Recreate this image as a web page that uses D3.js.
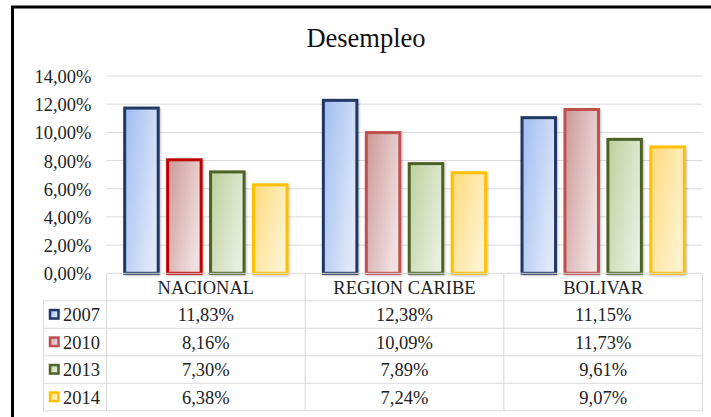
<!DOCTYPE html>
<html>
<head>
<meta charset="utf-8">
<script src="https://cdn.jsdelivr.net/npm/d3@7"></script>
<style>
  body { margin: 0; background: #fff; }
</style>
</head>
<body>
<svg width="711" height="417"></svg>
<script>
var categories = ["NACIONAL", "REGION CARIBE", "BOLIVAR"];
var years = ["2007", "2010", "2013", "2014"];
var v2007 = [11.83, 12.38, 11.15];
var v2010 = [8.16, 10.09, 11.73];
var v2013 = [7.30, 7.89, 9.61];
var v2014 = [6.38, 7.24, 9.07];
var yTicks = [0, 2, 4, 6, 8, 10, 12, 14];

var series = [v2007, v2010, v2013, v2014];

// colours per year: border, gradient start, gradient end
var strokes = ["#203864", "#c0504d", "#4f6228", "#ffc000"];
var gradA = ["#9fbdf2", "#cc9797", "#bcd09c", "#ffdb7c"];
var gradB = ["#dfe8f9", "#f1e0e0", "#e7efdf", "#fff2cf"];

var FONT = "'Liberation Serif'";
var mySVG = d3.select("svg").style("font-family", FONT);
var fmt = function(v){ return v.toFixed(2).replace(".", ",") + "%"; };

// frame (only top and left edges show in the picture)
mySVG.append("rect").attr("x", 12.5).attr("y", 7).attr("width", 740).attr("height", 440)
  .attr("fill", "none").attr("stroke", "#000").attr("stroke-width", 3);

var defs = mySVG.append("defs");
years.forEach(function(y, i){
  var g = defs.append("linearGradient").attr("id", "g" + y)
    .attr("x1", 0).attr("y1", 0).attr("x2", 1).attr("y2", 0.6);
  g.append("stop").attr("offset", "0%").attr("stop-color", gradA[i]);
  g.append("stop").attr("offset", "100%").attr("stop-color", gradB[i]);
});
var sh = defs.append("filter").attr("id", "shadow").attr("x", "-20%").attr("y", "-20%").attr("width", "150%").attr("height", "150%");
sh.append("feDropShadow").attr("dx", 1).attr("dy", 1).attr("stdDeviation", 1.2)
  .attr("flood-color", "#000").attr("flood-opacity", 0.25);

mySVG.append("text").attr("x", 366).attr("y", 47).attr("text-anchor", "middle")
  .attr("font-size", 26.5).attr("fill", "#111").style("font-family", FONT).text("Desempleo");

var plotL = 106.5, plotR = 702.5, plotT = 76, plotB = 273.3;

var y = d3.scaleLinear().domain([0, 14]).range([plotB, plotT]);
var x0 = d3.scaleBand().domain(categories).range([plotL, plotR]);
var x1 = d3.scaleBand().domain(years).range([16.7, 182]).paddingInner(0.15);

// gridlines
mySVG.append("g").selectAll("line").data(yTicks.slice(1)).enter().append("line")
  .attr("x1", plotL).attr("x2", plotR)
  .attr("y1", function(d){ return y(d); }).attr("y2", function(d){ return y(d); })
  .attr("stroke", "#d9d9d9").attr("stroke-width", 1);

// y labels via axis
var yAxis = mySVG.append("g").attr("transform", "translate(" + (plotL - 15) + ",0)")
  .call(d3.axisLeft(y).tickValues(yTicks).tickSize(0).tickPadding(0).tickFormat(function(d){ return fmt(d); }));
yAxis.select(".domain").remove();
yAxis.attr("font-family", null);
yAxis.selectAll("text").attr("font-size", 18.5).style("font-family", FONT)
  .attr("fill", "#222").attr("dy", "0.35em");

// bars
var groups = mySVG.append("g").selectAll("g").data(categories).enter().append("g")
  .attr("transform", function(c){ return "translate(" + x0(c) + ",0)"; });

groups.selectAll("rect").data(function(c, ci){
    return years.map(function(yr, si){ return {year: yr, si: si, ci: ci, v: series[si][ci]}; });
  }).enter().append("rect")
  .attr("x", function(d){ return x1(d.year) + 1.5; })
  .attr("y", function(d){ return y(d.v) + 1.5; })
  .attr("width", x1.bandwidth() - 3)
  .attr("height", function(d){ return plotB - y(d.v) - 1.5; })
  .attr("fill", function(d){ return "url(#g" + d.year + ")"; })
  .attr("stroke", function(d){ return (d.si == 1 && d.ci == 0) ? "#c00000" : strokes[d.si]; })
  .attr("stroke-width", 3)
  .attr("filter", "url(#shadow)");

// data table
var rowH = 27.5, tableL = 43.5;
var grid = "#d9d9d9";
var table = mySVG.append("g").style("font-family", FONT);

table.append("line").attr("x1", plotL).attr("x2", plotR).attr("y1", plotB).attr("y2", plotB).attr("stroke", grid);
for (var r = 1; r <= years.length + 1; r++) {
  table.append("line").attr("x1", tableL).attr("x2", plotR)
    .attr("y1", plotB + r * rowH).attr("y2", plotB + r * rowH).attr("stroke", grid);
}
var vx = [plotL].concat(categories.map(function(c){ return x0(c) + x0.bandwidth(); }));
vx.forEach(function(xx){
  table.append("line").attr("x1", xx).attr("x2", xx).attr("y1", plotB).attr("y2", plotB + 5 * rowH).attr("stroke", grid);
});
table.append("line").attr("x1", tableL).attr("x2", tableL).attr("y1", plotB + rowH).attr("y2", plotB + 5 * rowH).attr("stroke", grid);

table.selectAll("text.cat").data(categories).enter().append("text").attr("class", "cat")
  .attr("x", function(c){ return x0(c) + x0.bandwidth() / 2; })
  .attr("y", plotB + rowH / 2 + 6.5)
  .attr("text-anchor", "middle").attr("font-size", 18.5).attr("fill", "#222")
  .text(function(c){ return c; });

years.forEach(function(yr, si){
  var cy = plotB + (si + 1) * rowH + rowH / 2;
  table.append("rect").attr("x", 50).attr("y", cy - 4.5).attr("width", 8.5).attr("height", 8.5)
    .attr("fill", "url(#g" + yr + ")").attr("stroke", strokes[si]).attr("stroke-width", 2.5);
  table.append("text").attr("x", 63).attr("y", cy + 6.5).attr("font-size", 18.5).attr("fill", "#222").text(yr);
  table.selectAll("text.v" + yr).data(series[si]).enter().append("text")
    .attr("x", function(d, ci){ return x0(categories[ci]) + x0.bandwidth() / 2; })
    .attr("y", cy + 6.5).attr("text-anchor", "middle").attr("font-size", 18.5).attr("fill", "#222")
    .text(function(d){ return fmt(d); });
});
</script>
</body>
</html>
